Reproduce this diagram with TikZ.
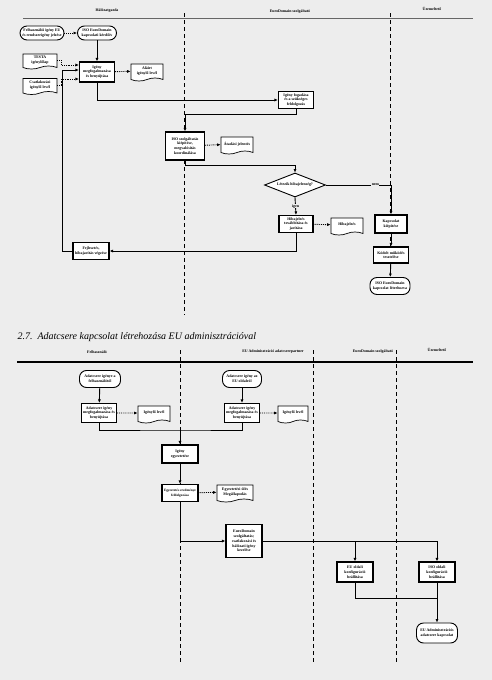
\documentclass[tikz,border=0pt]{standalone}
\usepackage{fontspec}
\setmainfont{Liberation Serif}
\usetikzlibrary{arrows.meta,positioning,shapes.geometric,shapes.symbols}
\newcommand\boxfont{\fontsize{3.9}{4.7}\selectfont\bfseries}
\tikzset{
  proc/.style={draw, line width=1.1pt, fill=white, minimum width=35pt,
    minimum height=18pt, align=center, inner sep=0.8pt, font=\boxfont},
  term/.style={draw, line width=0.9pt, fill=white, rounded corners=7pt,
    minimum width=40pt, minimum height=16pt, align=center, inner sep=0.8pt,
    font=\boxfont},
  docu/.style={draw, line width=0.7pt, fill=white, tape, tape bend top=none,
    tape bend height=3pt, minimum width=32pt, minimum height=17pt,
    align=center, inner sep=0.8pt, font=\boxfont},
  decide/.style={diamond, draw, line width=0.9pt, fill=white, aspect=2.6,
    minimum width=61pt, minimum height=24pt, inner sep=0pt, font=\boxfont},
  flow/.style={line width=0.9pt, -{Latex[length=3.5pt,width=3pt]}},
  note/.style={densely dotted, line width=0.9pt, -{Latex[length=3.5pt,width=3pt]}},
  lane/.style={line width=0.8pt, dash pattern=on 4pt off 3pt},
  lanehead/.style={font=\boxfont},
  branch/.style={fill=black!7, inner sep=0.5pt, font=\boxfont},
}

\begin{document}
\begin{tikzpicture}[x=1pt, y=-1pt]
\useasboundingbox (0,0) rectangle (492,680);
\fill[black!7] (0,0) rectangle (492,680);
% ---- top chart: lanes ---------------------------------------------
\node[lanehead] (hA) at (107,11) {Hálózatgazda};
\node[lanehead] (hB) at (290,12) {EuroDomain szolgáltató};
\node[lanehead] (hC) at (432,9) {Üzemeltető};
\draw[line width=0.6pt, black!60] (23,18) -- (473,18);
\draw[lane] (184,13) -- (184,315);
\draw[lane] (390,13) -- (390,272);
% ---- top chart: nodes ---------------------------------------------
\node[term, minimum width=44pt, minimum height=14pt] (igeny) at (42,33)
  {Felhasználói igény EU\\és rendszerigény jelzése};
\node[term, minimum width=39pt, minimum height=14pt] (kerdoiv) at (97,33)
  {ISO EuroDomain\\kapcsolati kérdőív};
\node[docu, minimum width=34pt, minimum height=15pt] (testa) at (40,60) {TESTA\\igénylőlap};
\node[docu, minimum width=34pt, minimum height=16pt] (csatl) at (40,85) {Csatlakozási\\igénylő levél};
\node[proc, minimum height=20pt] (benyujt) at (97,72) {Igény\\megfogalmazása\\és benyújtása};
\node[docu] (alairt) at (147,71) {Aláírt\\igénylő levél};
\node[proc, minimum height=17pt] (fogad) at (296,100) {Igény fogadása\\és a szükséges\\feldolgozás};
\node[proc, minimum width=39pt, minimum height=28pt] (kiepit) at (185,146)
  {ISO szolgáltatás\\kiépítése,\\megvalósítás\\koordinálása};
\node[docu] (atadas) at (237,144) {Átadási jelentés};
\node[decide] (hiba) at (295,185) {Létezik hibajelenség?};
\node[proc, minimum width=34pt, minimum height=17pt] (javit) at (296,224)
  {Hibajelzés\\továbbítása és\\javítása};
\node[docu] (hibajel) at (347,225) {Hibajelzés};
\node[proc, minimum width=32pt] (kapcs) at (391,224) {Kapcsolat\\kiépítése};
\node[proc, minimum height=16pt] (teszt) at (391,255) {Kódolt működés\\tesztelése};
\node[term, minimum height=17pt] (kesz) at (390,286) {ISO EuroDomain\\kapcsolat létrehozva};
\node[proc, minimum width=36pt, minimum height=17pt] (fejleszt) at (91,251)
  {Fejlesztés,\\hibajavítás végzése};
% ---- top chart: connectors ----------------------------------------
\draw[note] (igeny) -- (kerdoiv);
\draw[flow] (kerdoiv) -- (benyujt);
\draw[note] (testa.east) -- ++(4,0) |- ([yshift=7pt]benyujt.west);
\draw[note] (csatl.east) -- ++(4,0) |- ([yshift=-7pt]benyujt.west);
\draw[note] (benyujt) -- (alairt);
\draw[flow] (benyujt.south) |- (fogad.west);
\draw[flow] (fogad.south) -- ++(0,5) -| (kiepit.north);
\draw[note] (kiepit) -- (atadas);
\draw[flow] (kiepit.south) -- ++(0,5) -| (hiba.north);
\draw[flow] (hiba.east) -| (kapcs.north)
  node[branch, pos=0.38] (nem) {nem};
\draw[flow] (hiba.south) -- (javit.north)
  node[branch, midway] (igen) {igen};
\draw[note] (javit) -- (hibajel);
\draw[flow] (javit.south) |- (fejleszt.east);
\draw[flow] (fejleszt.west) -- ++(-10,0) |- ([yshift=2pt]benyujt.west);
\draw[flow] (kapcs) -- (teszt);
\draw[flow] (teszt) -- (kesz);
% ---- heading ------------------------------------------------------
\node[anchor=west, font=\fontsize{10}{12}\selectfont\itshape] (cim) at (14,337)
  {2.7.\ \ Adatcsere kapcsolat létrehozása EU adminisztrációval};
% ---- bottom chart: lanes ------------------------------------------
\node[lanehead] (hD) at (97,352) {Felhasználó};
\node[lanehead] (hE) at (273,352) {EU Adminisztráció adatcserepartner};
\node[lanehead] (hF) at (373,352) {EuroDomain szolgáltató};
\node[lanehead] (hG) at (437,350) {Üzemeltető};
\draw[line width=1.1pt] (17,362) -- (473,362);
\draw[lane] (180,350) -- (180,662);
\draw[lane] (313,350) -- (313,662);
\draw[lane] (396,350) -- (396,662);
% ---- bottom chart: nodes ------------------------------------------
\node[term, minimum width=41pt, minimum height=17pt] (felh) at (100,379)
  {Adatcsere igénye a\\felhasználótól};
\node[term, minimum width=39pt, minimum height=17pt] (euold) at (242,379)
  {Adatcsere igény az\\EU oldalról};
\node[proc, minimum height=19pt] (megfA) at (99,413)
  {Adatcsere igény\\megfogalmazása és\\benyújtása};
\node[docu] (levelA) at (154,413) {Igénylő levél};
\node[proc, minimum height=19pt] (megfB) at (242,413)
  {Adatcsere igény\\megfogalmazása és\\benyújtása};
\node[docu, minimum width=30pt] (levelB) at (293,413) {Igénylő levél};
\coordinate (gyujt) at (180,430);
\node[proc, minimum width=36pt] (egyeztet) at (180,454) {Igény\\egyeztetése};
\node[proc, minimum width=36pt, minimum height=17pt,
  font=\fontsize{3.4}{4.5}\selectfont\bfseries] (eredmeny) at (180,493)
  {Egyeztetés eredménye\\feldolgozása};
\node[docu, minimum width=36pt] (megall) at (235,492)
  {Egyeztetési ülés\\Megállapodás};
\node[proc, minimum width=36pt, minimum height=33pt] (szolg) at (244,541)
  {EuroDomain\\szolgáltatás;\\csatlakozási és\\hálózati igény\\kezelése};
\node[proc, minimum width=36pt, minimum height=20pt] (euconf) at (355,572)
  {EU oldali\\konfiguráció\\beállítása};
\node[proc, minimum width=36pt, minimum height=20pt] (isoconf) at (437,572)
  {ISO oldali\\konfiguráció\\beállítása};
\coordinate (osszefut) at (437,598);
\node[term, minimum width=41pt, minimum height=20pt] (eukapcs) at (437,633)
  {EU Adminisztrációs\\adatcsere kapcsolat};
% ---- bottom chart: connectors -------------------------------------
\draw[flow] (felh) -- (megfA);
\draw[flow] (euold) -- (megfB);
\draw[note] (megfA) -- (levelA);
\draw[note] (megfB) -- (levelB);
\draw[line width=0.9pt] (megfA.south) |- (gyujt) -| (megfB.south);
\draw[flow] (gyujt) -- (egyeztet);
\draw[flow] (egyeztet) -- (eredmeny);
\draw[note] (eredmeny) -- (megall);
\draw[flow] (eredmeny.south) |- (szolg.west);
\draw[flow] (szolg.east) -| (isoconf.north);
\draw[flow] (euconf.north |- szolg.east) -- (euconf.north);
\draw[line width=0.9pt] (euconf.south) |- (osszefut);
\draw[flow] (isoconf.south) -- (eukapcs.north);
\end{tikzpicture}
\end{document}
